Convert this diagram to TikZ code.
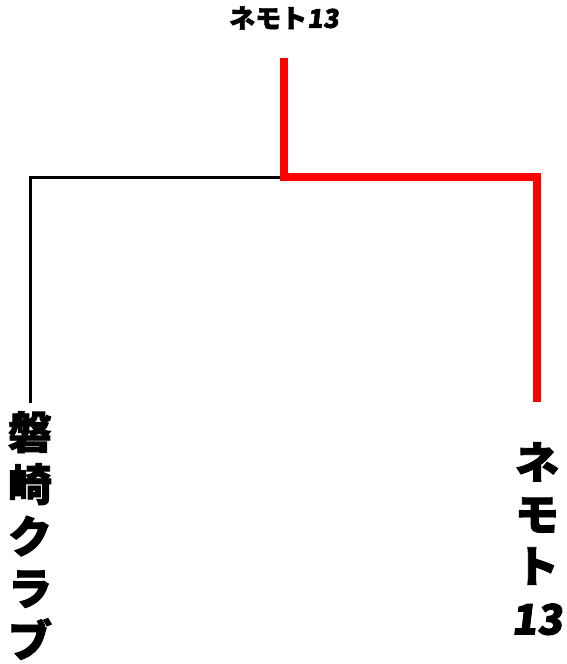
\documentclass[tikz,border=0pt]{standalone}
\usepackage{fontspec}
\newfontfamily\cjk{Noto Sans CJK JP}[BoldFeatures={FakeBold=2}]
\newfontfamily\cjkslant{Noto Sans CJK JP}[FakeSlant=0.12,BoldFeatures={FakeBold=2}]
\begin{document}
\begin{tikzpicture}[x=1pt,y=-1pt,
  lbl/.style={inner sep=0pt,font=\cjk\bfseries},
  vlbl/.style={lbl,align=center,font=\cjk\bfseries\fontsize{44}{52}\selectfont},
  loser/.style={line width=3pt,black,line join=miter},
  winner/.style={line width=8pt,red,line join=miter}]
\useasboundingbox (0,0) rectangle (566,664);
\node[lbl,font=\cjk\bfseries\fontsize{26}{28}\selectfont] (top) at (284,18) {ネモト\cjkslant 13};
\coordinate (topend) at (284,58);
\coordinate (j) at (284,177);
\coordinate (lend) at (30,403);
\coordinate (rend) at (537,402);
\node[vlbl,anchor=north] (l) at (30,411) {磐\\崎\\ク\\ラ\\ブ};
\node[vlbl,anchor=north] (r) at (537,442) {ネ\\モ\\ト\\{\cjkslant\fontsize{42}{50}\selectfont 13}};
\draw[loser] (j) -| (lend);
\draw[winner] (topend) -- (j) -| (rend);
\end{tikzpicture}
\end{document}
